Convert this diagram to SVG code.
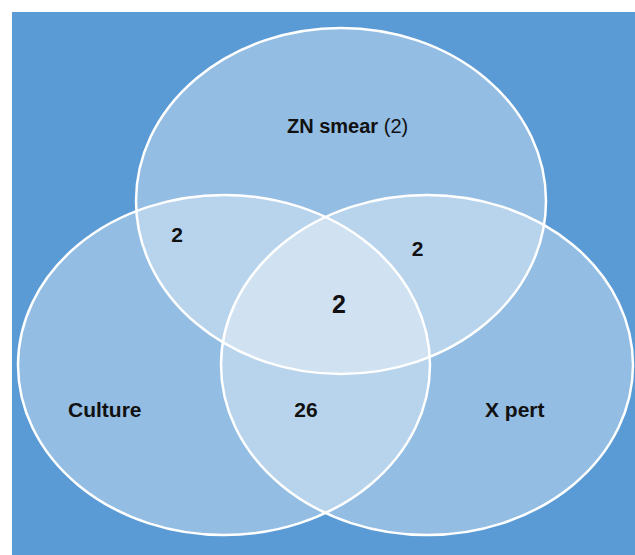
<svg xmlns="http://www.w3.org/2000/svg" width="635" height="555" viewBox="0 0 635 555">
<style>
.set{fill:#ffffff;fill-opacity:0.34;stroke:#ffffff;stroke-width:2.5}
.lbl{font-family:"Liberation Sans",Arial,sans-serif;font-weight:bold;fill:#111111}
</style>
<rect x="0" y="0" width="635" height="555" fill="#ffffff"/>
<rect x="12" y="12" width="623" height="543" fill="#5B9BD5"/>
<g id="zn-smear"><ellipse class="set" cx="341" cy="201" rx="205" ry="173"/></g>
<g id="culture"><ellipse class="set" cx="224" cy="365" rx="206" ry="170"/></g>
<g id="x-pert"><ellipse class="set" cx="427" cy="365" rx="206" ry="170"/></g>
<g id="labels">
<text class="lbl" x="287" y="133" font-size="20">ZN smear <tspan font-weight="normal">(2)</tspan></text>
<text class="lbl" x="177" y="242" font-size="21" text-anchor="middle">2</text>
<text class="lbl" x="417.5" y="256" font-size="21" text-anchor="middle">2</text>
<text class="lbl" x="339" y="313" font-size="25" text-anchor="middle">2</text>
<text class="lbl" x="68" y="417" font-size="21">Culture</text>
<text class="lbl" x="306" y="417" font-size="21" text-anchor="middle">26</text>
<text class="lbl" x="485" y="417" font-size="21">X pert</text>
</g>
</svg>
